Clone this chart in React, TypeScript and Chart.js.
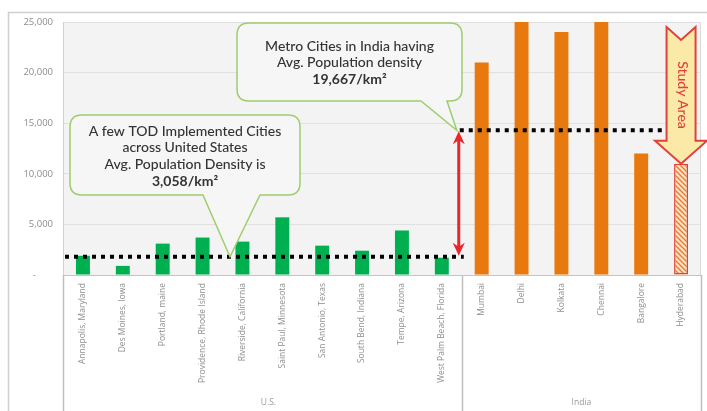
import React, { useEffect, useRef } from 'react';
import { Chart, registerables } from 'chart.js';

Chart.register(...registerables);

// ---------- data ----------
const usCities = [
  'Annapolis, Maryland',
  'Des Moines, Iowa',
  'Portland, maine',
  'Providence, Rhode Island',
  'Riverside, California',
  'Saint Paul, Minnesota',
  'San Antonio, Texas',
  'South Bend, Indiana',
  'Tempe, Arizona',
  'West Palm Beach, Florida',
];
const usDensity = [1900, 900, 3100, 3700, 3300, 5700, 2900, 2400, 4400, 1700];

const indiaCities = ['Mumbai', 'Delhi', 'Kolkata', 'Chennai', 'Bangalore', 'Hyderabad'];
const indiaDensity = [21000, 25000, 24000, 25000, 12000, 11000];

const groupLabels = ['U.S.', 'India'];
const yMin = 0;
const yMax = 25000;
const yStep = 5000;

const usAvgLine = 1800;
const indiaAvgLine = 14300;

const usCalloutText = [
  'A few TOD Implemented Cities',
  'across United States',
  'Avg. Population Density is',
  '3,058/km²',
];
const indiaCalloutText = ['Metro Cities in India having', 'Avg. Population density', '19,667/km²'];
const studyAreaText = 'Study Area';

const FONT = '"Open Sans", "Liberation Sans", sans-serif';
const CALLOUT_FONT = 'Lato, "Open Sans", sans-serif';

function calloutPath(
  ctx: CanvasRenderingContext2D,
  x: number, y: number, w: number, h: number, r: number,
  b1: number, b2: number, tx: number, ty: number
) {
  ctx.beginPath();
  ctx.moveTo(x + r, y);
  ctx.lineTo(x + w - r, y);
  ctx.quadraticCurveTo(x + w, y, x + w, y + r);
  ctx.lineTo(x + w, y + h - r);
  ctx.quadraticCurveTo(x + w, y + h, x + w - r, y + h);
  ctx.lineTo(b2, y + h);
  ctx.lineTo(tx, ty);
  ctx.lineTo(b1, y + h);
  ctx.lineTo(x + r, y + h);
  ctx.quadraticCurveTo(x, y + h, x, y + h - r);
  ctx.lineTo(x, y + r);
  ctx.quadraticCurveTo(x, y, x + r, y);
  ctx.closePath();
}

function drawArrowHead(ctx: CanvasRenderingContext2D, x: number, y: number, dir: number) {
  // dir: -1 pointing up, 1 pointing down
  ctx.beginPath();
  ctx.moveTo(x, y);
  ctx.lineTo(x - 6, y - dir * 13);
  ctx.lineTo(x, y - dir * 9);
  ctx.lineTo(x + 6, y - dir * 13);
  ctx.closePath();
  ctx.fill();
}

const overlayPlugin = {
  id: 'overlay',
  beforeDraw(chart: any) {
    const { ctx, chartArea } = chart;
    ctx.save();
    ctx.fillStyle = '#ffffff';
    ctx.fillRect(0, 0, chart.width, chart.height);
    // outer frame
    ctx.strokeStyle = '#cfcfcf';
    ctx.lineWidth = 1.5;
    ctx.beginPath();
    ctx.moveTo(8.5, chart.height);
    ctx.lineTo(8.5, 12.5);
    ctx.lineTo(chart.width, 12.5);
    ctx.stroke();
    // plot background
    ctx.fillStyle = '#f3f3f3';
    ctx.fillRect(chartArea.left, chartArea.top, chartArea.right - chartArea.left, chartArea.bottom - chartArea.top);
    ctx.strokeStyle = '#d9d9d9';
    ctx.lineWidth = 1;
    ctx.strokeRect(chartArea.left + 0.5, chartArea.top + 0.5, chartArea.right - chartArea.left - 1, chartArea.bottom - chartArea.top);
    ctx.restore();
  },
  afterDatasetsDraw(chart: any) {
    const { ctx, chartArea, scales } = chart;
    const xs = scales.x;
    const ys = scales.y;
    const nUS = usCities.length;
    const boundary = xs.getPixelForValue(nUS - 0.5);
    ctx.save();

    // group separators and labels
    ctx.strokeStyle = '#bfbfbf';
    ctx.lineWidth = 1.5;
    [chartArea.left, boundary, chartArea.right].forEach((x: number) => {
      ctx.beginPath();
      ctx.moveTo(Math.round(x) + 0.5, chartArea.bottom);
      ctx.lineTo(Math.round(x) + 0.5, chart.height);
      ctx.stroke();
    });
    ctx.fillStyle = '#9a9a9a';
    ctx.font = `8.5px ${FONT}`;
    ctx.textAlign = 'center';
    ctx.textBaseline = 'middle';
    ctx.fillText(groupLabels[0], (chartArea.left + boundary) / 2 + 6, 403);
    ctx.fillText(groupLabels[1], (boundary + chartArea.right) / 2, 403);

    // dotted average lines
    const yUS = ys.getPixelForValue(usAvgLine);
    const yIN = ys.getPixelForValue(indiaAvgLine);
    ctx.strokeStyle = '#000000';
    ctx.lineWidth = 4;
    ctx.setLineDash([4, 5]);
    ctx.beginPath();
    ctx.moveTo(chartArea.left + 2, yUS);
    ctx.lineTo(boundary + 2, yUS);
    ctx.stroke();
    ctx.beginPath();
    ctx.moveTo(boundary - 2, yIN);
    ctx.lineTo(xs.getPixelForValue(14.55), yIN);
    ctx.stroke();
    ctx.setLineDash([]);

    // red double arrow
    const ax = boundary - 3;
    ctx.strokeStyle = '#e8262c';
    ctx.fillStyle = '#e8262c';
    ctx.lineWidth = 3;
    ctx.beginPath();
    ctx.moveTo(ax, yIN + 8);
    ctx.lineTo(ax, yUS - 8);
    ctx.stroke();
    drawArrowHead(ctx, ax, yIN + 1, -1);
    drawArrowHead(ctx, ax, yUS - 1, 1);

    // callouts
    const drawCallout = (
      x: number, y: number, w: number, h: number,
      b1: number, b2: number, tx: number, ty: number,
      lines: string[], cy: number, lh: number
    ) => {
      calloutPath(ctx, x, y, w, h, 12, b1, b2, tx, ty);
      ctx.fillStyle = '#f6f6f6';
      ctx.fill();
      ctx.strokeStyle = '#9fcd6e';
      ctx.lineWidth = 1.5;
      ctx.stroke();
      ctx.fillStyle = '#333333';
      ctx.textAlign = 'center';
      ctx.textBaseline = 'middle';
      lines.forEach((t, i) => {
        ctx.font = `${i === lines.length - 1 ? 'bold' : '500'} 14px ${CALLOUT_FONT}`;
        ctx.fillText(t, x + w / 2, cy + i * lh);
      });
    };
    drawCallout(70, 115, 230, 80, 203, 260, 230, yUS, usCalloutText, 131, 16.7);
    drawCallout(237, 23, 225, 78, 421, 447, boundary - 5, yIN, indiaCalloutText, 46, 16.6);

    // study area arrow
    const cx = xs.getPixelForValue(usCities.length + indiaCities.length - 1);
    const tipY = ys.getPixelForValue(indiaDensity[indiaDensity.length - 1]);
    const topY = chartArea.top + 5;
    const sw = 14.5;
    const hw = 26;
    const headY = tipY - 23;
    ctx.beginPath();
    ctx.moveTo(cx - sw, topY);
    ctx.lineTo(cx, topY + 13);
    ctx.lineTo(cx + sw, topY);
    ctx.lineTo(cx + sw, headY);
    ctx.lineTo(cx + hw, headY);
    ctx.lineTo(cx, tipY);
    ctx.lineTo(cx - hw, headY);
    ctx.lineTo(cx - sw, headY);
    ctx.closePath();
    ctx.fillStyle = '#fbe9a8';
    ctx.fill();
    ctx.strokeStyle = '#e2403a';
    ctx.lineWidth = 2;
    ctx.lineJoin = 'miter';
    ctx.stroke();
    ctx.save();
    ctx.translate(cx + 1, 95);
    ctx.rotate(Math.PI / 2);
    ctx.fillStyle = '#e2403a';
    ctx.font = `500 14px ${CALLOUT_FONT}`;
    ctx.textAlign = 'center';
    ctx.textBaseline = 'middle';
    ctx.fillText(studyAreaText, 0, 0);
    ctx.restore();

    ctx.restore();
  },
};

export default function App() {
  const canvasRef = useRef<HTMLCanvasElement | null>(null);

  useEffect(() => {
    const canvas = canvasRef.current;
    if (!canvas) return;
    const ctx = canvas.getContext('2d')!;

    // hatch pattern for study area bar
    const pc = document.createElement('canvas');
    pc.width = 5;
    pc.height = 5;
    const p = pc.getContext('2d')!;
    p.fillStyle = '#fde3c6';
    p.fillRect(0, 0, 5, 5);
    p.strokeStyle = '#e7782c';
    p.lineWidth = 1.3;
    p.beginPath();
    p.moveTo(0, 0); p.lineTo(5, 5);
    p.moveTo(-2.5, 2.5); p.lineTo(2.5, 7.5);
    p.moveTo(2.5, -2.5); p.lineTo(7.5, 2.5);
    p.stroke();
    const hatch = ctx.createPattern(pc, 'repeat');

    const labels = [...usCities, ...indiaCities];
    const values = [...usDensity, ...indiaDensity];
    const last = labels.length - 1;
    const bg = labels.map((_, i) => (i < usCities.length ? '#00b050' : i === last ? hatch : '#e8790f'));
    const bc = labels.map((_, i) => (i === last ? '#e2403a' : 'rgba(0,0,0,0)'));
    const bw = labels.map((_, i) => (i === last ? 1.5 : 0));

    const chart = new Chart(canvas, {
      type: 'bar',
      data: {
        labels,
        datasets: [
          {
            data: values,
            backgroundColor: bg as any,
            borderColor: bc,
            borderWidth: bw,
            borderSkipped: false,
            barPercentage: 0.35,
            categoryPercentage: 1,
          },
        ],
      },
      options: {
        responsive: false,
        animation: false,
        devicePixelRatio: 1,
        layout: { padding: { top: 22, right: 6, left: 0, bottom: 0 } },
        plugins: { legend: { display: false }, tooltip: { enabled: false } },
        scales: {
          x: {
            offset: true,
            grid: { display: false, drawTicks: false },
            border: { display: true, color: '#c4c4c4', width: 1 },
            ticks: {
              autoSkip: false,
              minRotation: 90,
              maxRotation: 90,
              padding: 8,
              color: '#8f8f8f',
              font: { family: FONT, size: 8.5 },
            },
            afterFit(scale: any) {
              scale.height = 136;
            },
          },
          y: {
            min: yMin,
            max: yMax,
            ticks: {
              stepSize: yStep,
              padding: 10,
              color: '#8c8c8c',
              font: { family: FONT, size: 9.5 },
              callback: (v: any) => (Number(v) === 0 ? '-' + '\u00a0'.repeat(7) : Number(v).toLocaleString('en-US')),
            },
            grid: { color: '#e0e0e0', drawTicks: false },
            border: { display: true, color: '#d0d0d0' },
            afterFit(scale: any) {
              scale.width = 63;
            },
          },
        },
      },
      plugins: [overlayPlugin],
    });
    return () => chart.destroy();
  }, []);

  return (
    <div style={{ position: 'fixed', left: 0, top: 0, width: 707, height: 411, background: '#fff' }}>
      <canvas ref={canvasRef} width={707} height={411} style={{ display: 'block', width: 707, height: 411 }} />
    </div>
  );
}
